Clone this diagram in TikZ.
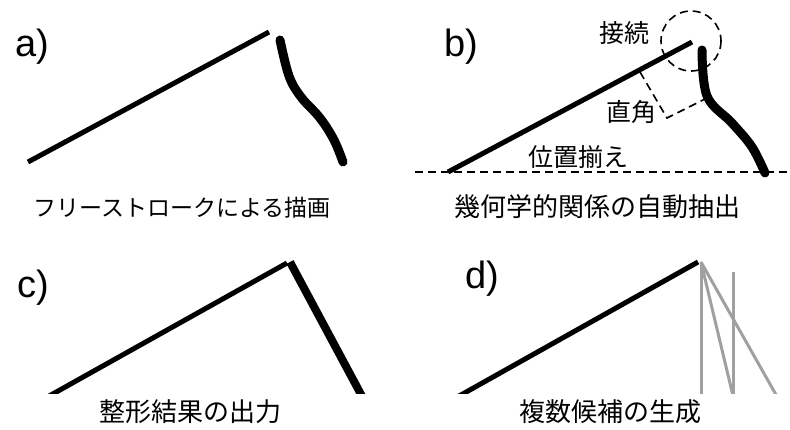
\documentclass[tikz,border=0pt]{standalone}
\usepackage{fontspec}
\setmainfont{Liberation Sans}
\newfontfamily\jp{Noto Sans CJK JP}
\usepackage{tikz}
\usetikzlibrary{positioning}
\definecolor{candgray}{HTML}{A0A0A0}

\begin{document}
\begin{tikzpicture}[
  x=1pt, y=-1pt,
  panel/.style={font=\fontsize{38}{38}\selectfont, inner sep=0pt},
  caption/.style={font=\jp\fontsize{26}{26}\selectfont, inner sep=0pt},
  tag/.style={font=\jp\fontsize{25}{25}\selectfont, inner sep=0pt},
  pen/.style={line width=5pt},
  free/.style={line width=9pt, line cap=round, line join=round},
  guide/.style={line width=1.6pt, dash pattern=on 8pt off 5pt},
  cand/.style={line width=3pt, color=candgray}
]
\useasboundingbox (0,0) rectangle (790,429);

% a) free stroke
\node[panel] (la) at (32,47) {a)};
\draw[pen] (28,162) -- (269,32);
\draw[free] plot[smooth, tension=0.6] coordinates {(280,40) (289,76) (301,97) (320,118) (334,140) (343,162)};
\node[caption, font=\jp\fontsize{23}{23}\selectfont] (ca) at (182,208) {フリーストロークによる描画};

% b) extracted relations
\node[panel] (lb) at (461,47) {b)};
\draw[guide] (415,172) -- (790,172);
\draw[pen] (448,172) -- (692,42);
\draw[free] plot[smooth, tension=0.6] coordinates {(702,50) (707,96) (732,123) (752,147) (765,173)};
\draw[guide] (691,41) circle (30);
\draw[guide] (640,72) -- (667,118) -- (709,97);
\node[tag] (conn) at (624,33) {接続};
\node[tag] (perp) at (631,112) {直角};
\node[tag] (algn) at (578,157) {位置揃え};
\node[caption] (cb) at (597,207) {幾何学的関係の自動抽出};

% c) beautified result
\node[panel] (lc) at (33,288) {c)};
\begin{scope}
  \clip (0,230) rectangle (400,393);
  \draw[pen] (42,400) -- (287,263);
  \draw[line width=8pt] (290,262) -- (364,400);
\end{scope}
\node[caption] (cc) at (190,412) {整形結果の出力};

% d) candidates
\node[panel] (ld) at (482,279) {d)};
\begin{scope}
  \clip (400,230) rectangle (790,393);
  \draw[pen] (452,400) -- (698,262);
  \draw[cand] (701,262) -- (701,400);
  \draw[cand] (701,262) -- (734,400);
  \draw[cand] (733,272) -- (733,400);
  \draw[cand] (701,262) -- (779,400);
\end{scope}
\node[caption] (cd) at (610,412) {複数候補の生成};
\end{tikzpicture}
\end{document}
